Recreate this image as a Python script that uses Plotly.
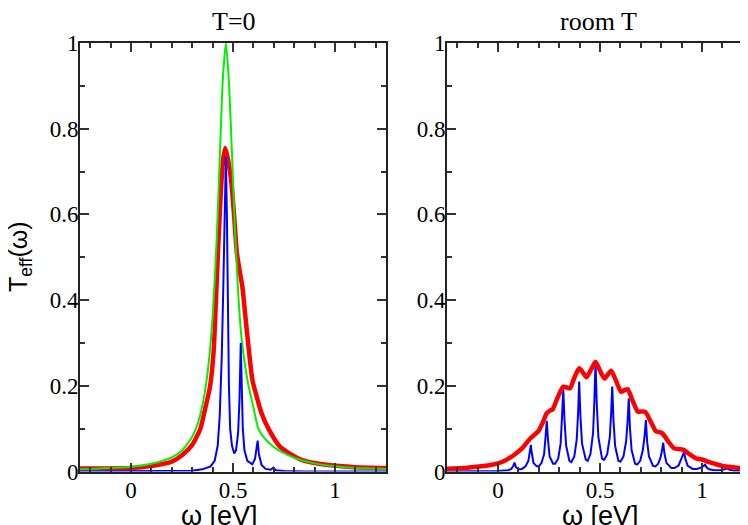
import plotly.graph_objects as go

# ---------------------------------------------------------------------------
# Data (omega in eV, effective transmission)
# ---------------------------------------------------------------------------

# T = 0 panel
green_w = [-0.25, 0.0, 0.1, 0.2, 0.25, 0.3, 0.33, 0.36, 0.38, 0.40, 0.42, 0.435,
           0.45, 0.465, 0.48, 0.495, 0.51, 0.525, 0.54, 0.56, 0.576, 0.60, 0.624,
           0.65, 0.70, 0.722, 0.75, 0.80, 0.90, 1.0, 1.1, 1.25]
green_t = [0.005, 0.011, 0.018, 0.033, 0.049, 0.081, 0.116, 0.18, 0.25, 0.36, 0.54, 0.73,
           0.914, 1.0, 0.91, 0.74, 0.56, 0.42, 0.32, 0.245, 0.2, 0.15, 0.10,
           0.08, 0.057, 0.05, 0.043, 0.032, 0.019, 0.012, 0.008, 0.006]

red0_w = [-0.25, 0.0, 0.1, 0.2, 0.25, 0.3, 0.34, 0.365, 0.388, 0.405, 0.413, 0.42,
          0.426, 0.435, 0.442, 0.452, 0.462, 0.475, 0.485, 0.494, 0.507, 0.519,
          0.532, 0.546, 0.559, 0.576, 0.595, 0.616, 0.64, 0.677, 0.73, 0.836,
          0.966, 1.1, 1.25]
red0_t = [0.007, 0.008, 0.013, 0.023, 0.038, 0.062, 0.10, 0.15, 0.2, 0.28, 0.36, 0.44,
          0.51, 0.6, 0.665, 0.73, 0.755, 0.73, 0.70, 0.665, 0.587, 0.51,
          0.47, 0.431, 0.37, 0.291, 0.214, 0.175, 0.136, 0.097, 0.058, 0.027,
          0.015, 0.01, 0.008]

blue0_w = [-0.25, 0.2, 0.3, 0.35, 0.39, 0.41, 0.425, 0.435, 0.445, 0.452, 0.458, 0.465,
           0.47, 0.475, 0.48, 0.486, 0.495, 0.506, 0.515, 0.525, 0.532, 0.538, 0.543,
           0.548, 0.556, 0.57, 0.595, 0.608, 0.617, 0.621, 0.627, 0.64, 0.66, 0.685,
           0.698, 0.71, 0.75, 0.85, 1.25]
blue0_t = [0.0, 0.0005, 0.002, 0.005, 0.012, 0.025, 0.06, 0.13, 0.27, 0.42, 0.6, 0.735,
           0.6, 0.35, 0.2, 0.1, 0.06, 0.042, 0.05, 0.09, 0.17, 0.30, 0.18,
           0.10, 0.05, 0.025, 0.017, 0.03, 0.06, 0.072, 0.04, 0.015, 0.006, 0.004,
           0.009, 0.003, 0.001, 0.0, 0.0]

# room T panel
red1_w = [-0.25, -0.15, -0.05, 0.0, 0.04, 0.077, 0.12, 0.158, 0.198, 0.22, 0.239, 0.255,
          0.268, 0.29, 0.32, 0.337, 0.353, 0.375, 0.398, 0.415, 0.434, 0.455, 0.478,
          0.5, 0.522, 0.538, 0.555, 0.58, 0.603, 0.62, 0.636, 0.66, 0.685, 0.705,
          0.722, 0.75, 0.774, 0.79, 0.806, 0.835, 0.863, 0.89, 0.912, 0.94, 0.969,
          0.985, 1.001, 1.035, 1.066, 1.1, 1.132, 1.17, 1.25]
red1_t = [0.0065, 0.009, 0.014, 0.019, 0.027, 0.038, 0.055, 0.077, 0.094, 0.115, 0.136, 0.142,
          0.145, 0.17, 0.198, 0.196, 0.194, 0.22, 0.241, 0.232, 0.22, 0.237, 0.256,
          0.235, 0.217, 0.226, 0.235, 0.21, 0.186, 0.19, 0.192, 0.165, 0.14, 0.14,
          0.139, 0.115, 0.094, 0.092, 0.089, 0.07, 0.054, 0.052, 0.05, 0.04, 0.031,
          0.029, 0.028, 0.022, 0.0175, 0.013, 0.011, 0.009, 0.006]

blue1_w = [-0.25, 0.0, 0.05, 0.065, 0.074, 0.081, 0.088, 0.1, 0.117, 0.135, 0.149, 0.156,
           0.161, 0.166, 0.174, 0.19, 0.2, 0.213, 0.226, 0.233, 0.239, 0.245, 0.253,
           0.27, 0.28, 0.295, 0.307, 0.314, 0.32, 0.326, 0.334, 0.35, 0.36, 0.374,
           0.386, 0.393, 0.398, 0.404, 0.412, 0.43, 0.44, 0.453, 0.466, 0.472, 0.478,
           0.484, 0.492, 0.51, 0.52, 0.535, 0.548, 0.554, 0.56, 0.566, 0.574, 0.59,
           0.6, 0.615, 0.628, 0.635, 0.641, 0.647, 0.655, 0.672, 0.682, 0.697, 0.71,
           0.718, 0.725, 0.731, 0.74, 0.76, 0.772, 0.785, 0.797, 0.804, 0.81, 0.816,
           0.826, 0.85, 0.865, 0.885, 0.899, 0.906, 0.912, 0.918, 0.93, 0.955, 0.975,
           0.995, 1.008, 1.015, 1.022, 1.035, 1.06, 1.09, 1.11, 1.124, 1.135, 1.16, 1.25]
blue1_t = [0.0, 0.001, 0.003, 0.006, 0.012, 0.021, 0.01, 0.005, 0.006, 0.012, 0.025, 0.045,
           0.062, 0.042, 0.02, 0.012, 0.012, 0.02, 0.04, 0.08, 0.118, 0.075, 0.035,
           0.018, 0.018, 0.03, 0.065, 0.13, 0.192, 0.12, 0.06, 0.025, 0.022, 0.035,
           0.075, 0.14, 0.21, 0.13, 0.065, 0.028, 0.025, 0.04, 0.09, 0.16, 0.256,
           0.16, 0.08, 0.03, 0.027, 0.04, 0.08, 0.13, 0.198, 0.12, 0.06, 0.025,
           0.023, 0.035, 0.07, 0.115, 0.171, 0.1, 0.05, 0.018, 0.016, 0.025, 0.05,
           0.08, 0.12, 0.07, 0.035, 0.013, 0.012, 0.018, 0.033, 0.05, 0.067, 0.042,
           0.02, 0.008, 0.008, 0.014, 0.028, 0.038, 0.047, 0.03, 0.013, 0.006, 0.006,
           0.009, 0.013, 0.016, 0.01, 0.005, 0.003, 0.003, 0.005, 0.007, 0.004, 0.002, 0.001]

panel_titles = ["T=0", "room T"]
x_title = "ω [eV]"
y_title = "T<sub>eff</sub>(ω)"

RED = "#ff0000"
GREEN = "#00f000"
BLUE = "#0000ff"
SERIF = "Liberation Serif"
SANS = "Liberation Sans"

W, H = 748, 525
OFF = 8  # the page body adds an 8px margin; positions below are page pixels


def fx(px):
    return (px - OFF) / W


def fy(py):
    return 1 - (py - OFF) / H


fig = go.Figure()

# left panel
fig.add_trace(go.Scatter(x=red0_w, y=red0_t, mode="lines", line=dict(color=RED, width=4.5, shape="spline", smoothing=0.6)))
fig.add_trace(go.Scatter(x=green_w, y=green_t, mode="lines", line=dict(color=GREEN, width=2, shape="spline", smoothing=0.6)))
fig.add_trace(go.Scatter(x=blue0_w, y=blue0_t, mode="lines", line=dict(color=BLUE, width=2)))

# right panel
fig.add_trace(go.Scatter(x=blue1_w, y=blue1_t, mode="lines", line=dict(color=BLUE, width=2), xaxis="x2", yaxis="y2"))
fig.add_trace(go.Scatter(x=red1_w, y=red1_t, mode="lines", line=dict(color=RED, width=4.5, shape="spline", smoothing=0.6), xaxis="x2", yaxis="y2"))

y_dom = [fy(471.5), fy(43)]

common = dict(
    showline=True, linecolor="#222222", linewidth=2, mirror="ticks",
    ticks="inside", ticklen=9, tickwidth=1.5, tickcolor="#333333",
    showgrid=False, zeroline=False, automargin=False,
    tickfont=dict(family=SERIF, size=23, color="black"),
    minor=dict(ticks="inside", ticklen=5, tickwidth=1.5, tickcolor="#333333", showgrid=False),
)

xax = dict(common, dtick=0.5, tick0=0, range=[-0.25, 1.25], ticklabelstandoff=-3,
           minor=dict(common["minor"], dtick=0.1))
yax = dict(common, dtick=0.2, tick0=0, range=[0, 1.0], ticklabelstandoff=-5,
           minor=dict(common["minor"], dtick=0.1))

fig.update_layout(
    template="none",
    width=W, height=H,
    font=dict(family=SERIF, color="black"),
    margin=dict(l=0, r=0, t=0, b=0, pad=0),
    paper_bgcolor="white", plot_bgcolor="white",
    showlegend=False,
    xaxis=dict(xax, domain=[fx(80), fx(386)]),
    yaxis=dict(yax, domain=y_dom, anchor="x"),
    xaxis2=dict(xax, domain=[fx(447), fx(753)], anchor="y2"),
    yaxis2=dict(yax, domain=y_dom, anchor="x2"),
)

annotations = [
    dict(text=panel_titles[0], x=fx(233.5), y=fy(21), font=dict(family=SERIF, size=26)),
    dict(text=panel_titles[1], x=fx(598.5), y=fy(21), font=dict(family=SERIF, size=26)),
    dict(text=x_title, x=fx(219), y=fy(516), font=dict(family=SANS, size=27)),
    dict(text=x_title, x=fx(600), y=fy(516), font=dict(family=SANS, size=27)),
    dict(text=y_title, x=fx(20), y=fy(257), textangle=-90, font=dict(family=SANS, size=25)),
]
for a in annotations:
    a.update(xref="paper", yref="paper", showarrow=False, xanchor="center", yanchor="middle")
    a["font"]["color"] = "black"
fig.update_layout(annotations=annotations)

fig.write_html("out.html")
